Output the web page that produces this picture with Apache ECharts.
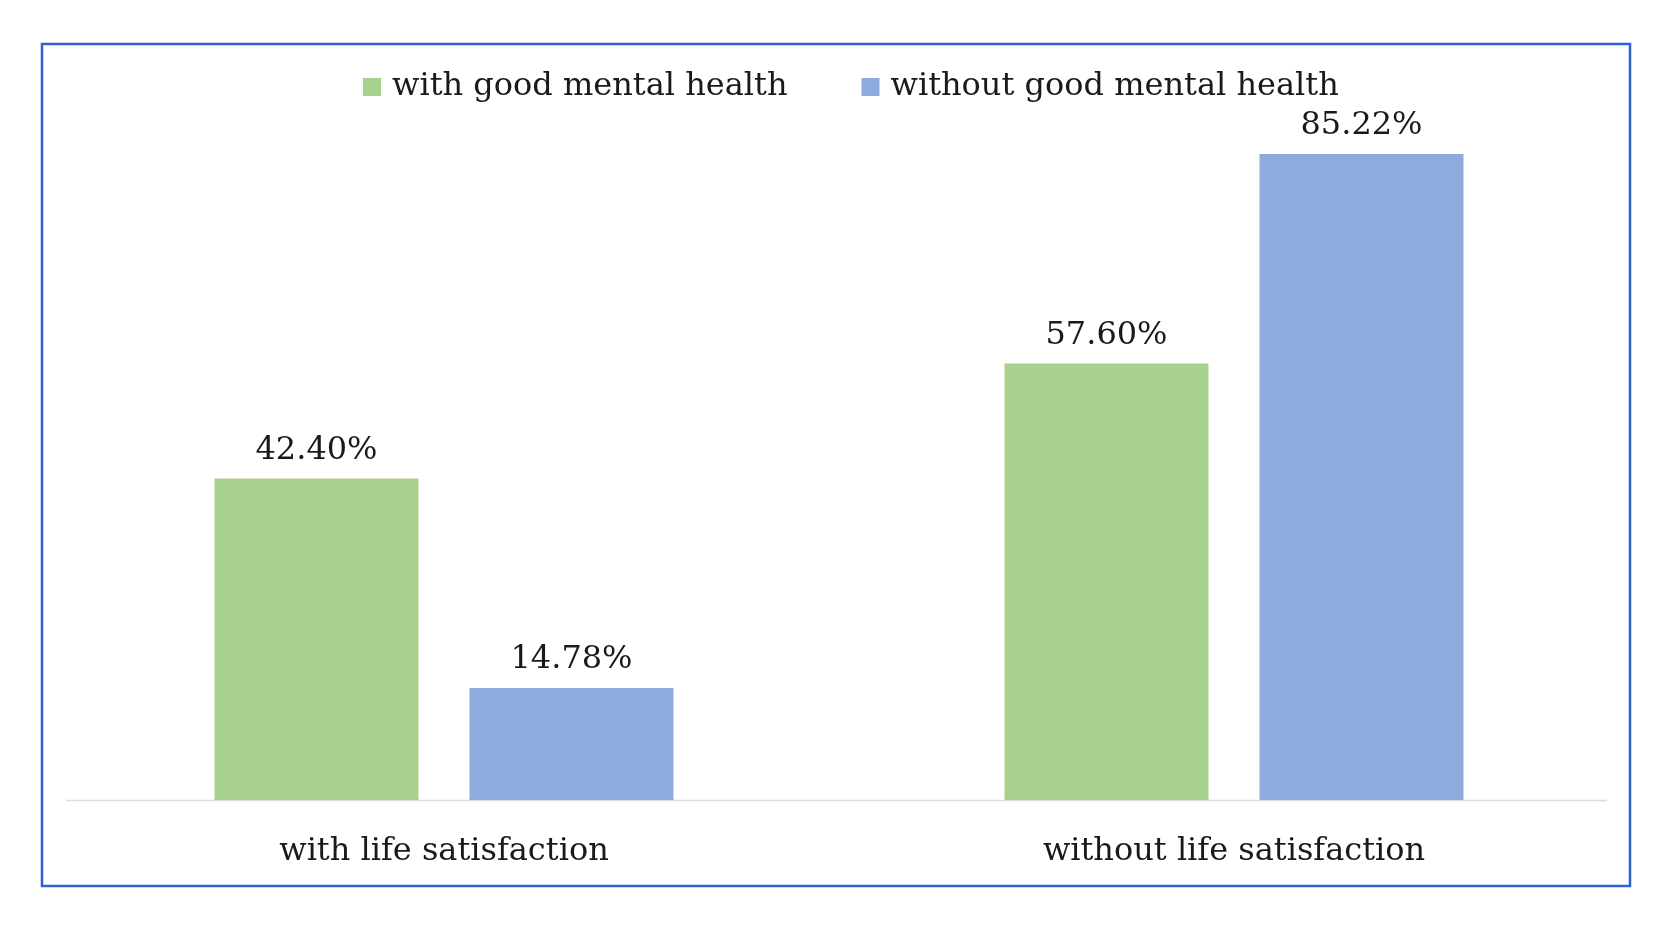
<!DOCTYPE html>
<html>
<head>
    <meta charset="utf-8">
    <title>Mental health and life satisfaction</title>
    <script src="https://cdn.jsdelivr.net/npm/echarts@6/dist/echarts.min.js"></script>
    <style>
        html, body { margin: 0; padding: 0; background: #fff; }
        #chart-container { width: 1672px; height: 941px; }
    </style>
</head>
<body>
<div id="chart-container"></div>
<script>
    const chartDom = document.getElementById('chart-container');
    const myChart = echarts.init(chartDom);

    // data
    const categories = ['with life satisfaction', 'without life satisfaction'];
    const seriesNames = ['with good mental health', 'without good mental health'];
    const withGood = [42.40, 57.60];
    const withoutGood = [14.78, 85.22];

    const fontFamily = '"DejaVu Serif", "Liberation Serif", serif';
    const textColor = '#1a1a1a';

    const barLabel = {
        show: true,
        position: 'top',
        distance: 12,
        color: textColor,
        fontFamily: fontFamily,
        fontSize: 32,
        formatter: p => p.value.toFixed(2) + '%'
    };

    const option = {
        backgroundColor: '#ffffff',
        legend: {
            data: seriesNames,
            left: 358,
            top: 66,
            icon: 'rect',
            itemWidth: 18,
            itemHeight: 18,
            itemGap: 74,
            textStyle: {
                color: textColor,
                fontFamily: fontFamily,
                fontSize: 32,
                padding: [0, 0, 0, 6]
            }
        },
        grid: {
            left: 49,
            right: 43,
            top: 42,
            bottom: 141
        },
        xAxis: {
            type: 'category',
            data: categories,
            axisLine: { show: false },
            axisTick: { show: false },
            axisLabel: {
                margin: 36,
                color: textColor,
                fontFamily: fontFamily,
                fontSize: 32
            }
        },
        yAxis: {
            type: 'value',
            min: 0,
            max: 100,
            show: false,
            splitLine: { show: false }
        },
        series: [
            {
                name: seriesNames[0],
                type: 'bar',
                data: withGood,
                barWidth: 204,
                barGap: '25%',
                itemStyle: { color: '#A9D18E' },
                label: barLabel
            },
            {
                name: seriesNames[1],
                type: 'bar',
                data: withoutGood,
                barWidth: 204,
                barGap: '25%',
                itemStyle: { color: '#8FAADC' },
                label: barLabel
            }
        ],
        graphic: [
            {
                type: 'line',
                shape: { x1: 66, y1: 800.5, x2: 1607, y2: 800.5 },
                style: { stroke: '#dcdcdc', lineWidth: 1.5 },
                z: 1
            },
            {
                type: 'rect',
                shape: { x: 42, y: 44, width: 1588, height: 842 },
                style: { fill: 'none', stroke: '#2f62d0', lineWidth: 2.5 },
                silent: true
            }
        ]
    };

    myChart.setOption(option);

    window.addEventListener('resize', function() {
        myChart.resize();
    });
</script>
</body>
</html>
